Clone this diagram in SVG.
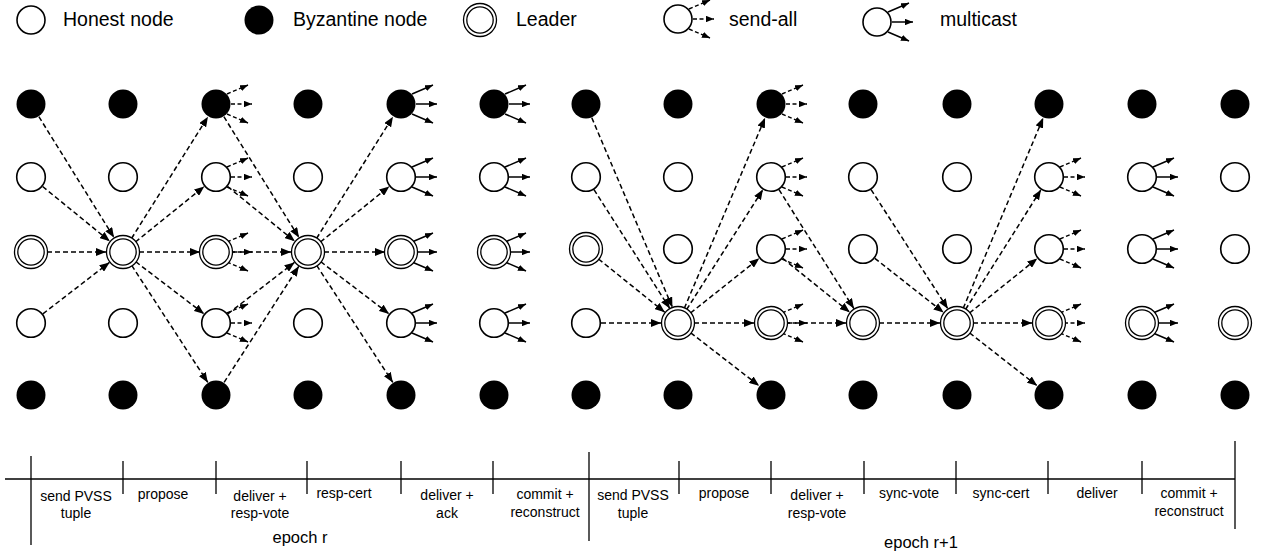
<svg xmlns="http://www.w3.org/2000/svg" xmlns:xlink="http://www.w3.org/1999/xlink" width="1262" height="559" viewBox="0 0 1262 559">
<style>
.h{fill:#fff;stroke:#000;stroke-width:1.6}
.b{fill:#000}
.lo{fill:#fff;stroke:#000;stroke-width:1.3}
.li{fill:none;stroke:#000;stroke-width:1.3}
.e{stroke:#000;stroke-width:1.5;stroke-dasharray:5 3;fill:none;marker-end:url(#ah)}
.sa line{stroke:#000;stroke-width:1.4;stroke-dasharray:4 2.5;marker-end:url(#as)}
.mc line{stroke:#000;stroke-width:1.5;marker-end:url(#as)}
.tl{stroke:#000;stroke-width:1.3;fill:none}
.lg{font-family:"Liberation Sans",Arial,sans-serif;font-size:19.5px;fill:#000}
.t{font-family:"Liberation Sans",Arial,sans-serif;font-size:14px;fill:#000;text-anchor:middle}
.ep{font-family:"Liberation Sans",Arial,sans-serif;font-size:16.5px;fill:#000;text-anchor:middle}
</style>
<defs>
<marker id="ah" viewBox="0 0 10 8" refX="10" refY="4" markerWidth="10" markerHeight="8" markerUnits="userSpaceOnUse" orient="auto"><path d="M0,0 L10,4 L0,8 z" fill="#000"/></marker>
<marker id="as" viewBox="0 0 10 8" refX="10" refY="4" markerWidth="8" markerHeight="6.5" markerUnits="userSpaceOnUse" orient="auto"><path d="M0,0 L10,4 L0,8 z" fill="#000"/></marker>
<g id="sa" class="sa"><line x1="11" y1="-10" x2="32" y2="-19"/><line x1="15" y1="0" x2="36" y2="0"/><line x1="11" y1="10" x2="32" y2="19"/></g>
<g id="mc" class="mc"><line x1="11" y1="-10" x2="32" y2="-19"/><line x1="15" y1="0" x2="36" y2="0"/><line x1="11" y1="10" x2="32" y2="19"/></g>
<g id="L"><circle class="lo" r="16.5"/><circle class="li" r="13.2"/></g>
</defs>
<rect width="1262" height="559" fill="#fff"/>

<g id="legend">
<g id="lg-honest"><circle class="h" cx="31" cy="20" r="14"/><text class="lg" x="63" y="26">Honest node</text></g>
<g id="lg-byz"><circle class="b" cx="259" cy="20" r="14.5"/><text class="lg" x="293" y="26">Byzantine node</text></g>
<g id="lg-leader"><use href="#L" x="480" y="20"/><text class="lg" x="516" y="26">Leader</text></g>
<g id="lg-sendall"><use href="#sa" x="678" y="19"/><circle class="h" cx="678" cy="19" r="14"/><text class="lg" x="729" y="26">send-all</text></g>
<g id="lg-multicast"><use href="#mc" x="877" y="22"/><circle class="h" cx="877" cy="22" r="14"/><text class="lg" x="940" y="26">multicast</text></g>
</g>

<g id="connectors">
<line class="e" x1="38.9" y1="116.7" x2="114" y2="237.6"/>
<line class="e" x1="42.6" y1="186.5" x2="109.8" y2="241.3"/>
<line class="e" x1="47" y1="252" x2="106" y2="252"/>
<line class="e" x1="42.9" y1="313.8" x2="109.5" y2="262.4"/>
<line class="e" x1="131.5" y1="238.5" x2="208" y2="116.7"/>
<line class="e" x1="135.4" y1="242" x2="204.3" y2="186.4"/>
<line class="e" x1="139" y1="252" x2="200" y2="252"/>
<line class="e" x1="135.7" y1="261.7" x2="204.1" y2="313.9"/>
<line class="e" x1="131.7" y1="265.4" x2="207.8" y2="382.4"/>
<line class="e" x1="223.9" y1="116.7" x2="299" y2="237.6"/>
<line class="e" x1="227.6" y1="186.5" x2="294.8" y2="241.3"/>
<line class="e" x1="232" y1="252" x2="291" y2="252"/>
<line class="e" x1="227.9" y1="313.8" x2="294.5" y2="262.4"/>
<line class="e" x1="224.1" y1="382.4" x2="298.8" y2="266.3"/>
<line class="e" x1="316.5" y1="238.5" x2="393" y2="116.7"/>
<line class="e" x1="320.4" y1="242" x2="389.3" y2="186.4"/>
<line class="e" x1="324" y1="252" x2="385" y2="252"/>
<line class="e" x1="320.7" y1="261.7" x2="389.1" y2="313.9"/>
<line class="e" x1="316.7" y1="265.4" x2="392.8" y2="382.4"/>

<line class="e" x1="591.8" y1="117.8" x2="672.4" y2="307.3"/>
<line class="e" x1="594" y1="189.7" x2="669.9" y2="308.6"/>
<line class="e" x1="598.5" y1="259" x2="664.8" y2="312.3"/>
<line class="e" x1="601" y1="323" x2="661" y2="323"/>
<line class="e" x1="684.3" y1="308.3" x2="765.1" y2="117.8"/>
<line class="e" x1="686.6" y1="309.5" x2="762.9" y2="189.6"/>
<line class="e" x1="690.5" y1="313" x2="759.3" y2="258.3"/>
<line class="e" x1="694" y1="323" x2="754" y2="323"/>
<line class="e" x1="690.7" y1="332.8" x2="759.1" y2="385.8"/>
<line class="e" x1="779" y1="189.7" x2="853.9" y2="308.6"/>
<line class="e" x1="782.7" y1="258.4" x2="849.8" y2="312.3"/>
<line class="e" x1="787" y1="323" x2="846" y2="323"/>
<line class="e" x1="871.1" y1="189.6" x2="947.8" y2="308.7"/>
<line class="e" x1="874.8" y1="258.3" x2="943.6" y2="312.5"/>
<line class="e" x1="879" y1="323" x2="940" y2="323"/>
<line class="e" x1="963.2" y1="308.3" x2="1043.2" y2="117.8"/>
<line class="e" x1="965.5" y1="309.5" x2="1041" y2="189.7"/>
<line class="e" x1="969.5" y1="313" x2="1037.3" y2="258.4"/>
<line class="e" x1="973" y1="323" x2="1032" y2="323"/>
<line class="e" x1="969.6" y1="332.9" x2="1037.2" y2="385.8"/>
</g>

<g id="epoch-r-nodes">
<g id="r-c0-0"><circle class="b" cx="31" cy="104" r="14.5"/></g>
<g id="r-c0-1"><circle class="h" cx="31" cy="177" r="14.3"/></g>
<g id="r-c0-2"><use href="#L" x="31" y="252"/></g>
<g id="r-c0-3"><circle class="h" cx="31" cy="323" r="14.3"/></g>
<g id="r-c0-4"><circle class="b" cx="31" cy="395" r="14.5"/></g>

<g id="r-c1-0"><circle class="b" cx="123" cy="104" r="14.5"/></g>
<g id="r-c1-1"><circle class="h" cx="123" cy="177" r="14.3"/></g>
<g id="r-c1-2"><use href="#L" x="123" y="252"/></g>
<g id="r-c1-3"><circle class="h" cx="123" cy="323" r="14.3"/></g>
<g id="r-c1-4"><circle class="b" cx="123" cy="395" r="14.5"/></g>

<g id="r-c2-0"><use href="#sa" x="216" y="104"/><circle class="b" cx="216" cy="104" r="14.5"/></g>
<g id="r-c2-1"><use href="#sa" x="216" y="177"/><circle class="h" cx="216" cy="177" r="14.3"/></g>
<g id="r-c2-2"><use href="#sa" x="216" y="252"/><use href="#L" x="216" y="252"/></g>
<g id="r-c2-3"><use href="#sa" x="216" y="323"/><circle class="h" cx="216" cy="323" r="14.3"/></g>
<g id="r-c2-4"><circle class="b" cx="216" cy="395" r="14.5"/></g>

<g id="r-c3-0"><circle class="b" cx="308" cy="104" r="14.5"/></g>
<g id="r-c3-1"><circle class="h" cx="308" cy="177" r="14.3"/></g>
<g id="r-c3-2"><use href="#L" x="308" y="252"/></g>
<g id="r-c3-3"><circle class="h" cx="308" cy="323" r="14.3"/></g>
<g id="r-c3-4"><circle class="b" cx="308" cy="395" r="14.5"/></g>

<g id="r-c4-0"><use href="#mc" x="401" y="104"/><circle class="b" cx="401" cy="104" r="14.5"/></g>
<g id="r-c4-1"><use href="#mc" x="401" y="177"/><circle class="h" cx="401" cy="177" r="14.3"/></g>
<g id="r-c4-2"><use href="#mc" x="401" y="252"/><use href="#L" x="401" y="252"/></g>
<g id="r-c4-3"><use href="#mc" x="401" y="323"/><circle class="h" cx="401" cy="323" r="14.3"/></g>
<g id="r-c4-4"><circle class="b" cx="401" cy="395" r="14.5"/></g>

<g id="r-c5-0"><use href="#mc" x="494" y="104"/><circle class="b" cx="494" cy="104" r="14.5"/></g>
<g id="r-c5-1"><use href="#mc" x="494" y="177"/><circle class="h" cx="494" cy="177" r="14.3"/></g>
<g id="r-c5-2"><use href="#mc" x="494" y="252"/><use href="#L" x="494" y="252"/></g>
<g id="r-c5-3"><use href="#mc" x="494" y="323"/><circle class="h" cx="494" cy="323" r="14.3"/></g>
<g id="r-c5-4"><circle class="b" cx="494" cy="395" r="14.5"/></g>
</g>

<g id="epoch-r1-nodes">
<g id="s-d0-0"><circle class="b" cx="586" cy="104" r="14.5"/></g>
<g id="s-d0-1"><circle class="h" cx="586" cy="177" r="14.3"/></g>
<g id="s-d0-2"><use href="#L" x="586" y="249"/></g>
<g id="s-d0-3"><circle class="h" cx="586" cy="323" r="14.3"/></g>
<g id="s-d0-4"><circle class="b" cx="586" cy="395" r="14.5"/></g>

<g id="s-d1-0"><circle class="b" cx="678" cy="104" r="14.5"/></g>
<g id="s-d1-1"><circle class="h" cx="678" cy="177" r="14.3"/></g>
<g id="s-d1-2"><circle class="h" cx="678" cy="249" r="14.3"/></g>
<g id="s-d1-3"><use href="#L" x="678" y="323"/></g>
<g id="s-d1-4"><circle class="b" cx="678" cy="395" r="14.5"/></g>

<g id="s-d2-0"><use href="#sa" x="771" y="104"/><circle class="b" cx="771" cy="104" r="14.5"/></g>
<g id="s-d2-1"><use href="#sa" x="771" y="177"/><circle class="h" cx="771" cy="177" r="14.3"/></g>
<g id="s-d2-2"><use href="#sa" x="771" y="249"/><circle class="h" cx="771" cy="249" r="14.3"/></g>
<g id="s-d2-3"><use href="#sa" x="771" y="323"/><use href="#L" x="771" y="323"/></g>
<g id="s-d2-4"><circle class="b" cx="771" cy="395" r="14.5"/></g>

<g id="s-d3-0"><circle class="b" cx="863" cy="104" r="14.5"/></g>
<g id="s-d3-1"><circle class="h" cx="863" cy="177" r="14.3"/></g>
<g id="s-d3-2"><circle class="h" cx="863" cy="249" r="14.3"/></g>
<g id="s-d3-3"><use href="#L" x="863" y="323"/></g>
<g id="s-d3-4"><circle class="b" cx="863" cy="395" r="14.5"/></g>

<g id="s-d4-0"><circle class="b" cx="957" cy="104" r="14.5"/></g>
<g id="s-d4-1"><circle class="h" cx="957" cy="177" r="14.3"/></g>
<g id="s-d4-2"><circle class="h" cx="957" cy="249" r="14.3"/></g>
<g id="s-d4-3"><use href="#L" x="957" y="323"/></g>
<g id="s-d4-4"><circle class="b" cx="957" cy="395" r="14.5"/></g>

<g id="s-d5-0"><circle class="b" cx="1049" cy="104" r="14.5"/></g>
<g id="s-d5-1"><use href="#sa" x="1049" y="177"/><circle class="h" cx="1049" cy="177" r="14.3"/></g>
<g id="s-d5-2"><use href="#sa" x="1049" y="249"/><circle class="h" cx="1049" cy="249" r="14.3"/></g>
<g id="s-d5-3"><use href="#sa" x="1049" y="323"/><use href="#L" x="1049" y="323"/></g>
<g id="s-d5-4"><circle class="b" cx="1049" cy="395" r="14.5"/></g>

<g id="s-d6-0"><circle class="b" cx="1142" cy="104" r="14.5"/></g>
<g id="s-d6-1"><use href="#mc" x="1142" y="177"/><circle class="h" cx="1142" cy="177" r="14.3"/></g>
<g id="s-d6-2"><use href="#mc" x="1142" y="249"/><circle class="h" cx="1142" cy="249" r="14.3"/></g>
<g id="s-d6-3"><use href="#mc" x="1142" y="323"/><use href="#L" x="1142" y="323"/></g>
<g id="s-d6-4"><circle class="b" cx="1142" cy="395" r="14.5"/></g>

<g id="s-d7-0"><circle class="b" cx="1235" cy="104" r="14.5"/></g>
<g id="s-d7-1"><circle class="h" cx="1235" cy="177" r="14.3"/></g>
<g id="s-d7-2"><circle class="h" cx="1235" cy="249" r="14.3"/></g>
<g id="s-d7-3"><use href="#L" x="1235" y="323"/></g>
<g id="s-d7-4"><circle class="b" cx="1235" cy="395" r="14.5"/></g>
</g>

<g id="timeline">
<line class="tl" x1="5" y1="479" x2="1235" y2="479"/>
<line class="tl" x1="31" y1="456" x2="31" y2="545"/>
<line class="tl" x1="589" y1="452" x2="589" y2="541"/>
<line class="tl" x1="1235" y1="441" x2="1235" y2="529"/>
<line class="tl" x1="123" y1="461" x2="123" y2="494"/>
<line class="tl" x1="216" y1="461" x2="216" y2="494"/>
<line class="tl" x1="307" y1="461" x2="307" y2="494"/>
<line class="tl" x1="401" y1="461" x2="401" y2="494"/>
<line class="tl" x1="493" y1="461" x2="493" y2="494"/>
<line class="tl" x1="679" y1="461" x2="679" y2="494"/>
<line class="tl" x1="771" y1="461" x2="771" y2="494"/>
<line class="tl" x1="864" y1="461" x2="864" y2="494"/>
<line class="tl" x1="956" y1="461" x2="956" y2="494"/>
<line class="tl" x1="1048" y1="461" x2="1048" y2="494"/>
<line class="tl" x1="1142" y1="461" x2="1142" y2="494"/>

<text class="t" x="76" y="501">send PVSS</text><text class="t" x="76" y="518">tuple</text>
<text class="t" x="163" y="499">propose</text>
<text class="t" x="260" y="501">deliver +</text><text class="t" x="260" y="518">resp-vote</text>
<text class="t" x="344" y="498">resp-cert</text>
<text class="t" x="447" y="500">deliver +</text><text class="t" x="447" y="518">ack</text>
<text class="t" x="545" y="499">commit +</text><text class="t" x="545" y="517">reconstruct</text>
<text class="ep" x="300" y="543">epoch r</text>

<text class="t" x="633" y="500">send PVSS</text><text class="t" x="633" y="518">tuple</text>
<text class="t" x="724" y="498">propose</text>
<text class="t" x="817" y="500">deliver +</text><text class="t" x="817" y="518">resp-vote</text>
<text class="t" x="909" y="498">sync-vote</text>
<text class="t" x="1001" y="498">sync-cert</text>
<text class="t" x="1097" y="498">deliver</text>
<text class="t" x="1189" y="498">commit +</text><text class="t" x="1189" y="516">reconstruct</text>
<text class="ep" x="921" y="548">epoch r+1</text>
</g>
</svg>
